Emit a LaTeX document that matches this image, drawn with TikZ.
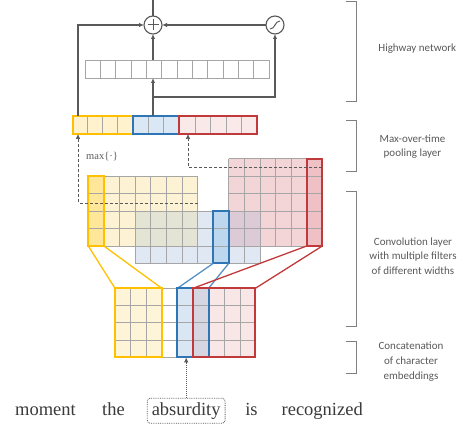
\documentclass[tikz,border=0pt]{standalone}
\usepackage{fontspec}
\setmainfont{Liberation Serif}
\newfontfamily\lblfont{Carlito}
\usetikzlibrary{arrows.meta}
\definecolor{cYel}{HTML}{FFC000}
\definecolor{cBlu}{HTML}{2E75B6}
\definecolor{cRed}{HTML}{C0393B}
\definecolor{fYel}{HTML}{FDF3D4}
\definecolor{fBlu}{HTML}{E0E8F4}
\definecolor{fRed}{HTML}{F3D5D7}
\definecolor{fYelD}{HTML}{FFE699}
\definecolor{fBluD}{HTML}{BDD7EE}
\definecolor{fRedD}{HTML}{EFC0C4}
\definecolor{fYB}{HTML}{E3E4D4}
\definecolor{fBR}{HTML}{DCCAD6}
\definecolor{eYf}{HTML}{FEF5D9}
\definecolor{eBf}{HTML}{D9E6F4}
\definecolor{eBR}{HTML}{D6D6E2}
\definecolor{eRf}{HTML}{F9E7E7}
\definecolor{pYf}{HTML}{FFF2CC}
\definecolor{pBf}{HTML}{DAE8F5}
\definecolor{pRf}{HTML}{FAE9E9}
\definecolor{gridc}{HTML}{A6A6A6}
\definecolor{darkc}{HTML}{595959}
\definecolor{brk}{HTML}{808080}
\definecolor{txtc}{HTML}{3A3A3A}
\newcommand\mygrid[6]{%
 \foreach \i in {0,...,#3}{\draw[gridline] ({#1+\i*#5},{#2}) -- ({#1+\i*#5},{#2+#4*#6});}
 \foreach \j in {0,...,#4}{\draw[gridline] ({#1},{#2+\j*#6}) -- ({#1+#3*#5},{#2+\j*#6});}
}
\begin{document}
\begin{tikzpicture}[x=1pt,y=-1pt,
 conn/.style={draw=darkc, line width=1.2pt},
 tip/.style={-{Latex[length=5pt,width=4.5pt]}},
 gridline/.style={draw=gridc, line width=0.6pt},
 cell/.style={inner sep=0pt, outer sep=0pt, anchor=north west},
 ring/.style={circle, draw=darkc, line width=1.1pt, minimum size=18pt, inner sep=0pt, outer sep=0pt},
 dashc/.style={draw=darkc, densely dashed, line width=0.6pt},
 brack/.style={draw=brk, line width=0.8pt},
 lbl/.style={font=\lblfont\fontsize{11}{14.7}\selectfont, text=darkc, align=center},
 word/.style={font=\fontsize{18.5}{20}\selectfont, text=txtc, anchor=base, inner sep=0pt},
 ]
\useasboundingbox (0,0) rectangle (466,438);

% ---------- highway network ----------
\coordinate (top) at (153,0);
\node[ring] (plus) at (153,25) {};
\draw[darkc, line width=1pt] (plus.center) +(-5.5,0) -- +(5.5,0) (plus.center) +(0,-5.5) -- +(0,5.5);
\node[ring] (sig) at (275,25) {};
\draw[darkc, line width=1pt, shift={(sig.center)}] (-5,4) .. controls (0.5,4) and (-0.5,-4) .. (5,-4);
\node[cell, draw=gridc, line width=0.6pt, minimum width=184pt, minimum height=18pt] (hw) at (85,60) {};
\mygrid{85}{60}{12}{1}{15.3333}{18}

% ---------- pooling layer ----------
\node[cell, fill=pYf, minimum width=60pt, minimum height=18.3pt] (poolY) at (72.7,115.7) {};
\node[cell, fill=pBf, minimum width=46.6pt, minimum height=18.3pt] (poolB) at (132.7,115.7) {};
\node[cell, fill=pRf, minimum width=78pt, minimum height=18.3pt] (poolR) at (179.3,115.7) {};
\mygrid{72.7}{115.7}{4}{1}{15}{18.3}
\mygrid{132.7}{115.7}{3}{1}{15.5333}{18.3}
\mygrid{179.3}{115.7}{5}{1}{15.6}{18.3}
\draw[cYel, line width=2pt] (poolY.north west) rectangle (poolY.south east);
\draw[cBlu, line width=2pt] (poolB.north west) rectangle (poolB.south east);
\draw[cRed, line width=2pt] (poolR.north west) rectangle (poolR.south east);

% highway connectors
\coordinate (pl) at (78,115.7);
\coordinate (pc) at (153,115.7);
\coordinate (br) at (153,97);
\draw[conn] (plus.north) -- (top);
\draw[conn, tip] (pl) |- (plus.west);
\draw[conn, tip] (pc) -- (pc |- hw.south);
\draw[conn, tip] (br) -| (sig.south);
\draw[conn, tip] (plus.south |- hw.north) -- (plus.south);
\draw[conn, tip] (sig.west) -- (plus.east);

% ---------- feature maps ----------
\fill[fYel] (88.3,176.2) rectangle (197.5,246);
\fill[fBlu] (135.1,211.1) rectangle (259.9,263.45);
\fill[fRed] (228.7,158.75) rectangle (322.3,246);
\fill[fYB] (135.1,211.1) rectangle (197.5,246);
\fill[fBR] (228.7,211.1) rectangle (259.9,246);
\fill[fYelD] (88.3,176.2) rectangle (103.9,246);
\fill[fBluD] (213.1,211.1) rectangle (228.7,263.45);
\fill[fRedD] (306.7,158.75) rectangle (322.3,246);
\mygrid{88.3}{176.2}{7}{4}{15.6}{17.45}
\mygrid{135.1}{211.1}{8}{3}{15.6}{17.45}
\mygrid{228.7}{158.75}{6}{5}{15.6}{17.45}
\node[cell, draw=cYel, line width=2pt, minimum width=15.6pt, minimum height=69.8pt] (ycol) at (88.3,176.2) {};
\node[cell, draw=cBlu, line width=2pt, minimum width=15.6pt, minimum height=52.35pt] (bcol) at (213.1,211.1) {};
\node[cell, draw=cRed, line width=2pt, minimum width=15.6pt, minimum height=87.25pt] (rcol) at (306.7,158.75) {};

% max-over-time dashed arrows
\coordinate (dY) at (197.5,203);
\coordinate (dR) at (322.3,167);
\draw[dashc, tip] (dY) -| ([xshift=5.3pt]poolY.south west);
\draw[dashc, tip] (dR) -| ([xshift=8.7pt]poolR.south west);
\node[font=\fontsize{10.5}{12}\selectfont, text=darkc, inner sep=0pt] (maxl) at (102,157) {max\{·\}};

% ---------- character embeddings ----------
\fill[eYf] (115,288.3) rectangle (161.8,357.3);
\fill[white] (161.8,288.3) rectangle (177.4,357.3);
\fill[eBf] (177.4,288.3) rectangle (193,357.3);
\fill[eBR] (193,288.3) rectangle (208.6,357.3);
\fill[eRf] (208.6,288.3) rectangle (255.4,357.3);
\mygrid{115}{288.3}{9}{4}{15.6}{17.25}
\node[cell, minimum width=46.8pt, minimum height=69pt] (eY) at (115,288.3) {};
\node[cell, minimum width=31.2pt, minimum height=69pt] (eB) at (177.4,288.3) {};
\node[cell, minimum width=62.4pt, minimum height=69pt] (eR) at (193,288.3) {};

% filter connectors
\draw[cYel, line width=1.3pt] (ycol.south west) -- (eY.north west) (ycol.south east) -- (eY.north east);
\draw[cBlu!80!white, line width=1.3pt] (bcol.south west) -- (eB.north west) (bcol.south east) -- (eB.north east);
\draw[cRed, line width=1.3pt] (rcol.south west) -- (eR.north west) (rcol.south east) -- (eR.north east);
\draw[cYel, line width=2pt] (eY.north west) rectangle (eY.south east);
\draw[cBlu, line width=2pt] (eB.north west) rectangle (eB.south east);
\draw[cRed, line width=2pt] (eR.north west) rectangle (eR.south east);

% ---------- words ----------
\node[word] (w1) at (45.5,415) {moment};
\node[word] (w2) at (113.5,415) {the};
\node[word, draw=darkc, densely dotted, line width=0.8pt, rounded corners=3pt, inner xsep=4.5pt, inner ysep=3.75pt, text height=13pt, text depth=4.5pt] (w3) at (186.2,415) {absurdity};
\node[word] (w4) at (251.5,415) {is};
\node[word] (w5) at (322.2,415) {recognized};
\draw[draw=darkc, densely dotted, line width=1pt, tip] (w3.north) -- (w3.north |- eB.south);

% ---------- brackets & labels ----------
\draw[brack] (346,1.7) -- (356.7,1.7) -- (356.7,101.7) -- (346,101.7);
\draw[brack] (346,120) -- (356.7,120) -- (356.7,171) -- (346,171);
\draw[brack] (346,191.7) -- (356.7,191.7) -- (356.7,326.7) -- (346,326.7);
\draw[brack] (346,341.7) -- (356.7,341.7) -- (356.7,373.3) -- (346,373.3);
\node[lbl] (l1) at (417.3,48.3) {Highway network};
\node[lbl] (l2) at (412.5,146.7) {Max-over-time\\pooling layer};
\node[lbl] (l3) at (413,256) {Convolution layer\\with multiple filters\\of different widths};
\node[lbl] (l4) at (411,361.7) {Concatenation\\of character\\embeddings};
\end{tikzpicture}
\end{document}
